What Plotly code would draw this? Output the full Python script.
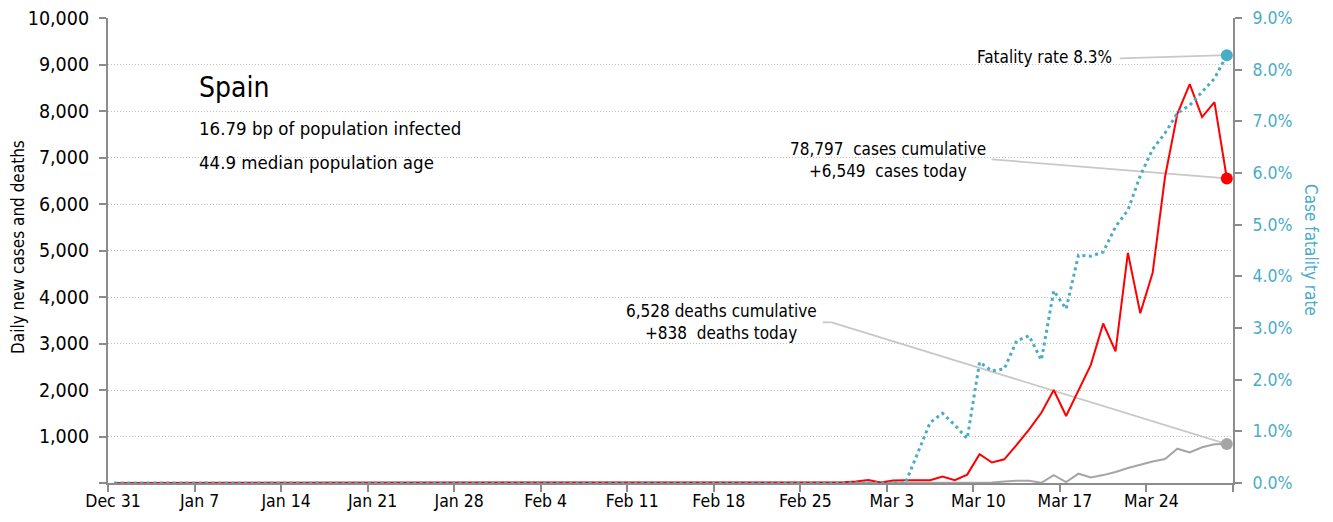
import pandas as pd
import plotly.graph_objects as go

# ---------------- data ----------------
dates = pd.date_range("2019-12-31", "2020-03-30", freq="D")

# daily new cases (Dec 31 .. Mar 30)
new_cases = [
    0,                                   # Dec 31
    0, 0, 0, 0, 0, 0, 0, 0, 0, 0,        # Jan 1-10
    0, 0, 0, 0, 0, 0, 0, 0, 0, 0,        # Jan 11-20
    0, 0, 0, 0, 0, 0, 0, 0, 0, 0, 0,     # Jan 21-31
    1, 0, 0, 0, 0, 0, 0, 0, 0, 1,        # Feb 1-10
    0, 0, 0, 0, 0, 0, 0, 0, 0, 0,        # Feb 11-20
    0, 0, 0, 0, 4, 3, 10, 15, 30,        # Feb 21-29
    65, 10, 55, 60, 60, 60, 140, 60, 180, 620,           # Mar 1-10
    440, 510, 820, 1150, 1510, 2000, 1440, 1980, 2540, 3430,  # Mar 11-20
    2830, 4950, 3650, 4520, 6580, 7940, 8580, 7870, 8190, 6549,  # Mar 21-30
]

# daily new deaths
new_deaths = [
    0,
    0, 0, 0, 0, 0, 0, 0, 0, 0, 0,
    0, 0, 0, 0, 0, 0, 0, 0, 0, 0,
    0, 0, 0, 0, 0, 0, 0, 0, 0, 0, 0,
    0, 0, 0, 0, 0, 0, 0, 0, 0, 0,
    0, 0, 0, 0, 0, 0, 0, 0, 0, 0,
    0, 0, 0, 0, 0, 0, 0, 0, 0,
    0, 0, 0, 0, 1, 2, 2, 5, 7, 15,                 # Mar 1-10
    10, 30, 50, 50, 5, 170, 20, 200, 120, 170,     # Mar 11-20
    235, 324, 394, 462, 514, 738, 655, 769, 832, 838,  # Mar 21-30
]

# case fatality rate, percent
fatality_rate = [
    0,
    0, 0, 0, 0, 0, 0, 0, 0, 0, 0,
    0, 0, 0, 0, 0, 0, 0, 0, 0, 0,
    0, 0, 0, 0, 0, 0, 0, 0, 0, 0, 0,
    0, 0, 0, 0, 0, 0, 0, 0, 0, 0,
    0, 0, 0, 0, 0, 0, 0, 0, 0, 0,
    0, 0, 0, 0, 0, 0, 0, 0, 0,
    0, 0, 0, 0, 0.58, 1.17, 1.35, 1.12, 0.86, 2.34,        # Mar 1-10
    2.17, 2.21, 2.75, 2.85, 2.38, 3.72, 3.37, 4.41, 4.39, 4.47,  # Mar 11-20
    4.96, 5.28, 5.95, 6.46, 6.77, 7.16, 7.31, 7.56, 7.83, 8.28,  # Mar 21-30
]

tick_dates = ["2019-12-31", "2020-01-07", "2020-01-14", "2020-01-21", "2020-01-28",
              "2020-02-04", "2020-02-11", "2020-02-18", "2020-02-25", "2020-03-03",
              "2020-03-10", "2020-03-17", "2020-03-24", "2020-03-31"]
tick_labels = ["Dec 31", "Jan 7", "Jan 14", "Jan 21", "Jan 28", "Feb 4", "Feb 11",
               "Feb 18", "Feb 25", "Mar 3", "Mar 10", "Mar 17", "Mar 24", ""]

y_ticks = [0, 1000, 2000, 3000, 4000, 5000, 6000, 7000, 8000, 9000, 10000]
y_labels = ["", "1,000", "2,000", "3,000", "4,000", "5,000", "6,000", "7,000",
            "8,000", "9,000", "10,000"]
y2_ticks = [0, 1, 2, 3, 4, 5, 6, 7, 8, 9]
y2_labels = ["0.0%", "1.0%", "2.0%", "3.0%", "4.0%", "5.0%", "6.0%", "7.0%", "8.0%", "9.0%"]

country = "Spain"
subtitle1 = "16.79 bp of population infected"
subtitle2 = "44.9 median population age"
cum_cases = "78,797"
cum_deaths = "6,528"

# ---------------- style ----------------
FONT = "DejaVu Sans Condensed, Liberation Sans Narrow, sans-serif"
RED = "#FF0000"
TEAL = "#4BACC6"
GREY = "#A5A5A5"
LEADER = "#C8C8C8"
AXIS = "#8C8C8C"
ANN_SIZE = 17

# points plotted at mid-day
x = dates + pd.Timedelta(hours=12)

fig = go.Figure()
fig.add_trace(go.Scatter(x=x, y=new_deaths, mode="lines",
                         line=dict(color=GREY, width=2), hoverinfo="skip"))
fig.add_trace(go.Scatter(x=x, y=new_cases, mode="lines",
                         line=dict(color=RED, width=2), hoverinfo="skip"))
fig.add_trace(go.Scatter(x=x, y=fatality_rate, mode="lines", yaxis="y2",
                         line=dict(color=TEAL, width=3, dash="3px,3.5px"), hoverinfo="skip"))
# end markers
fig.add_trace(go.Scatter(x=x[-1:], y=new_deaths[-1:], mode="markers",
                         marker=dict(color=GREY, size=12), hoverinfo="skip"))
fig.add_trace(go.Scatter(x=x[-1:], y=new_cases[-1:], mode="markers",
                         marker=dict(color=RED, size=12), hoverinfo="skip"))
fig.add_trace(go.Scatter(x=x[-1:], y=fatality_rate[-1:], mode="markers", yaxis="y2",
                         marker=dict(color=TEAL, size=12), hoverinfo="skip"))

last_x = x[-1]
shapes = [
    dict(type="line", xref="x", yref="y2", x0="2020-03-21 20:10", y0=8.22,
         x1=last_x, y1=fatality_rate[-1], line=dict(color=LEADER, width=1.8), layer="below"),
    dict(type="line", xref="x", yref="y", x0="2020-03-11 11:17", y0=6961,
         x1=last_x, y1=new_cases[-1], line=dict(color=LEADER, width=1.8), layer="below"),
    dict(type="line", xref="x", yref="y", x0="2020-02-26 19:26", y0=3456,
         x1="2020-02-27 12:43", y1=3456, line=dict(color=LEADER, width=1.8), layer="below"),
    dict(type="line", xref="x", yref="y", x0="2020-02-27 12:43", y0=3456,
         x1=last_x, y1=new_deaths[-1], line=dict(color=LEADER, width=1.8), layer="below"),
]

# helper: place text by screen pixel (plot area spans x 108..1233, y 18..483 on screen)
def ann(text, px, py, size, xanchor="left", color="#000000", angle=0):
    return dict(text=text, xref="paper", yref="paper",
                x=(px - 108) / 1125.0, y=(483 - py) / 465.0,
                xanchor=xanchor, yanchor="middle", showarrow=False,
                textangle=angle, font=dict(family=FONT, size=size, color=color))

annotations = [
    ann(country, 197, 88, 28),
    ann(subtitle1, 197, 128, 18.5),
    ann(subtitle2, 197, 163, 18.5),
    ann(f"Fatality rate {fatality_rate[-1]:.1f}%", 1114, 57, ANN_SIZE, xanchor="right"),
    ann(f"{cum_cases}  cases cumulative", 888, 149, ANN_SIZE, xanchor="center"),
    ann(f"+{new_cases[-1]:,}  cases today", 888, 171, ANN_SIZE, xanchor="center"),
    ann(f"{cum_deaths} deaths cumulative", 721, 311, ANN_SIZE, xanchor="center"),
    ann(f"+{new_deaths[-1]:,}  deaths today", 721, 333, ANN_SIZE, xanchor="center"),
    ann("Daily new cases and deaths", 18, 247, ANN_SIZE, xanchor="center", angle=-90),
    ann("Case fatality rate", 1311, 250, ANN_SIZE, xanchor="center", color=TEAL, angle=90),
]

# the page body adds an 8px offset, so the figure is 8px smaller than the window
fig.update_layout(
    width=1325, height=514, autosize=False,
    margin=dict(l=100, r=100, t=10, b=39, autoexpand=False),
    paper_bgcolor="white", plot_bgcolor="white",
    showlegend=False,
    font=dict(family=FONT, size=17.5, color="#000000"),
    shapes=shapes,
    annotations=annotations,
    xaxis=dict(
        type="date", range=["2019-12-31", "2020-03-31"],
        tickvals=tick_dates, ticktext=tick_labels,
        showline=True, linecolor=AXIS, linewidth=2,
        ticks="outside", ticklen=7, tickcolor=AXIS, tickwidth=2,
        showgrid=False, zeroline=False, automargin=False,
        ticklabelshift=5, ticklabelstandoff=-6, ticklabeloverflow="allow",
        tickfont=dict(family=FONT, size=17.5, color="#000000"),
    ),
    yaxis=dict(
        range=[0, 10000], tickvals=y_ticks, ticktext=y_labels,
        showline=True, linecolor=AXIS, linewidth=2,
        ticks="outside", ticklen=7, tickcolor=AXIS, tickwidth=2,
        showgrid=True, gridcolor="#BFBFBF", gridwidth=1, griddash="1px,2px",
        zeroline=False, automargin=False,
        ticklabelstandoff=6, ticklabeloverflow="allow",
        tickfont=dict(family=FONT, size=19.5, color="#000000"),
    ),
    yaxis2=dict(
        range=[0, 9], tickvals=y2_ticks, ticktext=y2_labels,
        overlaying="y", side="right",
        showline=True, linecolor=AXIS, linewidth=2,
        ticks="outside", ticklen=7, tickcolor=AXIS, tickwidth=2,
        showgrid=False, zeroline=False, automargin=False,
        ticklabelstandoff=7, ticklabeloverflow="allow",
        tickfont=dict(family=FONT, size=17.5, color=TEAL),
    ),
)

fig.write_html("out.html")
